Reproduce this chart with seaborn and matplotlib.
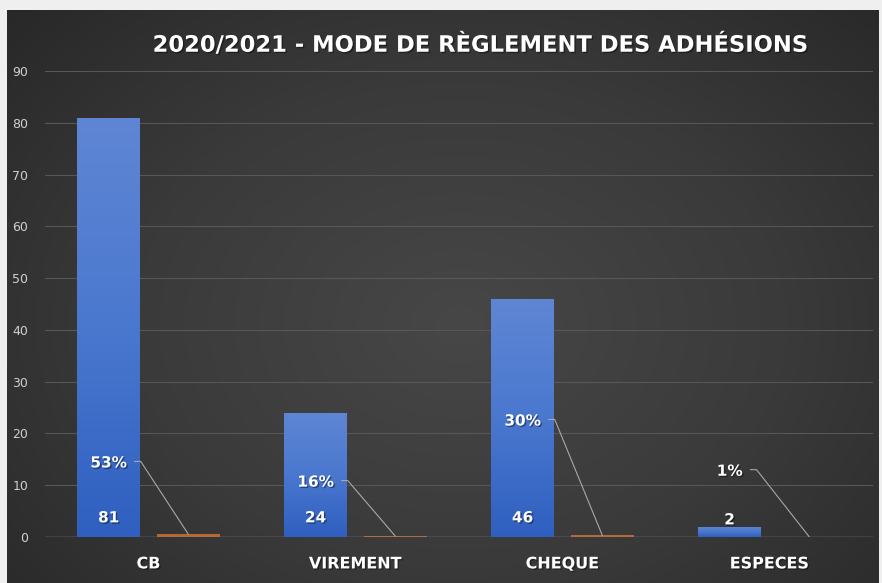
import numpy as np
import pandas as pd
import matplotlib
matplotlib.use("Agg")
import matplotlib.pyplot as plt
import matplotlib.patheffects as pe
from matplotlib.colors import LinearSegmentedColormap
import seaborn as sns

# ---- data ----
categories = ["CB", "VIREMENT", "CHEQUE", "ESPECES"]
counts = [81, 24, 46, 2]
shares = [0.53, 0.16, 0.30, 0.01]
share_labels = ["53%", "16%", "30%", "1%"]
series_names = ["Nombre", "Part"]
title = "2020/2021 - MODE DE RÈGLEMENT DES ADHÉSIONS"
yticks = [0, 10, 20, 30, 40, 50, 60, 70, 80, 90]

# manual label heights for the percentage labels (layout)
share_label_y = [14.3, 10.6, 22.4, 12.7]

df = pd.DataFrame({
    "cat": categories * 2,
    "series": [series_names[0]] * 4 + [series_names[1]] * 4,
    "value": counts + shares,
})

sns.set_theme(style="dark")
plt.rcParams["font.family"] = ["DejaVu Sans"]

W, H = 882, 583
fig = plt.figure(figsize=(W / 100, H / 100), dpi=100)
fig.patch.set_facecolor("#efefef")

# background panel with radial gradient
bg = fig.add_axes([7 / W, 0, (879 - 7) / W, (583 - 10) / H])
bg.set_axis_off()
yy, xx = np.mgrid[0:1:300j, 0:1:450j]
r = np.sqrt(((xx - 0.52) / 0.75) ** 2 + ((yy - 0.55) / 0.85) ** 2)
cmap_bg = LinearSegmentedColormap.from_list("bg", ["#474747", "#3a3a3a", "#262626"])
bg.imshow(np.clip(r, 0, 1), cmap=cmap_bg, aspect="auto", extent=[0, 1, 0, 1], vmin=0, vmax=1)

ax = fig.add_axes([45 / W, (583 - 537) / H, (873 - 45) / W, (537 - 71) / H])
ax.set_facecolor("none")
sns.barplot(data=df, x="cat", y="value", hue="series", order=categories,
            hue_order=series_names, palette=["#4472c4", "#ed7d31"],
            width=0.77, gap=0.21, legend=False, ax=ax, saturation=1,
            linewidth=0, edgecolor="none")

ax.set_ylim(0, 90)
ax.set_xlim(-0.5, 3.5)
ax.set_yticks(yticks)
ax.grid(axis="y", color="#575757", linewidth=0.8)
ax.grid(axis="x", visible=False)
ax.set_axisbelow(True)
for s in ax.spines.values():
    s.set_visible(False)
ax.axhline(0, color="#8a8a8a", linewidth=1.0, zorder=1)
ax.tick_params(axis="y", length=0, pad=12, labelsize=9, labelcolor="#d0d0d0")
ax.tick_params(axis="x", length=0, pad=14, labelsize=11.5, labelcolor="white")
for t in ax.get_xticklabels():
    t.set_fontweight("bold")
    t.set_path_effects([pe.withSimplePatchShadow(offset=(1, -1), shadow_rgbFace="black", alpha=0.4)])
ax.set_xlabel("")
ax.set_ylabel("")

# gradient fill on blue bars
cmap_bar = LinearSegmentedColormap.from_list("bar", ["#2f5fc0", "#4a78cf", "#5f86d4"])
blue_bars = ax.containers[0].patches
orange_bars = ax.containers[1].patches
grad = np.linspace(0, 1, 256).reshape(-1, 1)
for p in blue_bars:
    x0, y0 = p.get_x(), p.get_y()
    w, h = p.get_width(), p.get_height()
    im = ax.imshow(grad, cmap=cmap_bar, origin="lower", aspect="auto",
                   extent=[x0, x0 + w, y0, y0 + h], zorder=2.5)
    im.set_clip_path(p)
for p in orange_bars:
    p.set_alpha(0.7)
ax.set_xlim(-0.5, 3.5)
ax.set_ylim(0, 90)

shadow = [pe.withSimplePatchShadow(offset=(1, -1), shadow_rgbFace="black", alpha=0.4)]

# count labels
for p, c in zip(blue_bars, counts):
    cx = p.get_x() + p.get_width() / 2
    ypos = c + 1.3 if c < 8 else 3.7
    ax.text(cx, ypos, str(c), ha="center", va="center", color="white",
            fontsize=11, fontweight="bold", zorder=5, path_effects=shadow)

# share labels with leader lines
for bp, p, lab, ly in zip(blue_bars, orange_bars, share_labels, share_label_y):
    ox = p.get_x() + p.get_width() / 2
    lx = bp.get_x() + bp.get_width() / 2
    ax.text(lx, ly, lab, ha="center", va="center", color="white",
            fontsize=11, fontweight="bold", zorder=5, path_effects=shadow)
    sx = lx + 0.125 if len(lab) > 2 else lx + 0.10
    ax.plot([sx, sx + 0.03, ox], [ly + 0.3, ly + 0.3, p.get_height()], color="#a8a8a8",
            linewidth=0.8, zorder=4)

fig.text(0.545, (583 - 45) / H, title, ha="center", va="center", color="white",
         fontsize=16.3, fontweight="bold", path_effects=shadow)

fig.savefig("out.png", dpi=100, facecolor=fig.get_facecolor())
